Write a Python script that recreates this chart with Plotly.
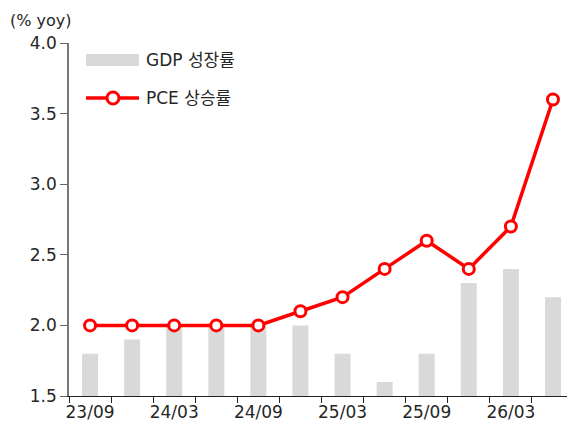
import plotly.graph_objects as go

categories = ["23/09", "23/12", "24/03", "24/06", "24/09", "24/12",
              "25/03", "25/06", "25/09", "25/12", "26/03", "26/06"]
gdp_growth = [1.8, 1.9, 2.0, 2.0, 2.0, 2.0, 1.8, 1.6, 1.8, 2.3, 2.4, 2.2]
pce_inflation = [2.0, 2.0, 2.0, 2.0, 2.0, 2.1, 2.2, 2.4, 2.6, 2.4, 2.7, 3.6]
tick_labels = [c if i % 2 == 0 else "" for i, c in enumerate(categories)]
y_ticks = [1.5, 2.0, 2.5, 3.0, 3.5, 4.0]

FONT = "DejaVu Sans, Noto Sans CJK KR"
RED = "#ff0000"
GRAY = "#d9d9d9"
TXT = "#262626"

fig = go.Figure()
fig.add_trace(go.Bar(x=categories, y=gdp_growth, name="GDP 성장률",
                     marker=dict(color=GRAY, line=dict(width=0)),
                     width=0.38, showlegend=False))
fig.add_trace(go.Scatter(x=categories, y=pce_inflation, name="PCE 상승률",
                         mode="lines+markers",
                         line=dict(color=RED, width=3.5),
                         marker=dict(symbol="circle", size=11, color="white",
                                     line=dict(color=RED, width=3)),
                         showlegend=False))

# page body has an 8px margin; size the figure so the plot lands where the reference has it
OFF = 8
PL, PT, PR, PB = 69, 43, 574, 396  # plot area in page pixels
W, H = 575 - OFF, 435 - OFF
L, T = PL - OFF, PT - OFF
R, B = W - (PR - OFF), H - (PB - OFF)
pw, ph = PR - PL, PB - PT

def px(x):
    return (x - PL) / pw

def py(y):
    return (PB - y) / ph

shapes = [
    dict(type="rect", xref="paper", yref="paper", x0=px(86), x1=px(139),
         y0=py(66), y1=py(54), fillcolor=GRAY, line=dict(width=0)),
    dict(type="line", xref="paper", yref="paper", x0=px(86), x1=px(139),
         y0=py(98), y1=py(98), line=dict(color=RED, width=3.5)),
    dict(type="circle", xref="paper", yref="paper", x0=px(107), x1=px(119),
         y0=py(104), y1=py(92), fillcolor="white", line=dict(color=RED, width=3)),
]
annotations = [
    dict(text="GDP 성장률", xref="paper", yref="paper", x=px(144), y=py(60),
         xanchor="left", yanchor="middle", showarrow=False,
         font=dict(size=17, color=TXT, family=FONT)),
    dict(text="PCE 상승률", xref="paper", yref="paper", x=px(144), y=py(98),
         xanchor="left", yanchor="middle", showarrow=False,
         font=dict(size=17, color=TXT, family=FONT)),
    dict(text="(% yoy)", xref="paper", yref="paper", x=px(9), y=py(20),
         xanchor="left", yanchor="middle", showarrow=False, borderpad=0,
         font=dict(size=16, color=TXT, family=FONT)),
]

fig.update_layout(
    width=W, height=H,
    margin=dict(l=L, r=R, t=T, b=B, pad=0),
    paper_bgcolor="white", plot_bgcolor="white",
    font=dict(family=FONT, size=17, color=TXT),
    showlegend=False,
    shapes=shapes, annotations=annotations,
)
fig.update_xaxes(type="category", range=[-0.5, 11.5],
                 tickmode="array", tickvals=categories, ticktext=tick_labels,
                 tickson="boundaries", ticks="outside", ticklen=6,
                 tickangle=0, automargin=False,
                 tickcolor="#222", showline=True, linecolor="#222", linewidth=1.2,
                 showgrid=False, tickfont=dict(size=17, color=TXT, family=FONT))
fig.update_yaxes(range=[1.5, 4.0], tickmode="array", tickvals=y_ticks,
                 ticktext=[f"{v:.1f}" for v in y_ticks], automargin=False,
                 ticks="outside", ticklen=7, tickcolor="#666",
                 showline=True, linecolor="#777", linewidth=1.5,
                 showgrid=False, zeroline=False,
                 tickfont=dict(size=17, color=TXT, family=FONT))

fig.write_html("out.html")
